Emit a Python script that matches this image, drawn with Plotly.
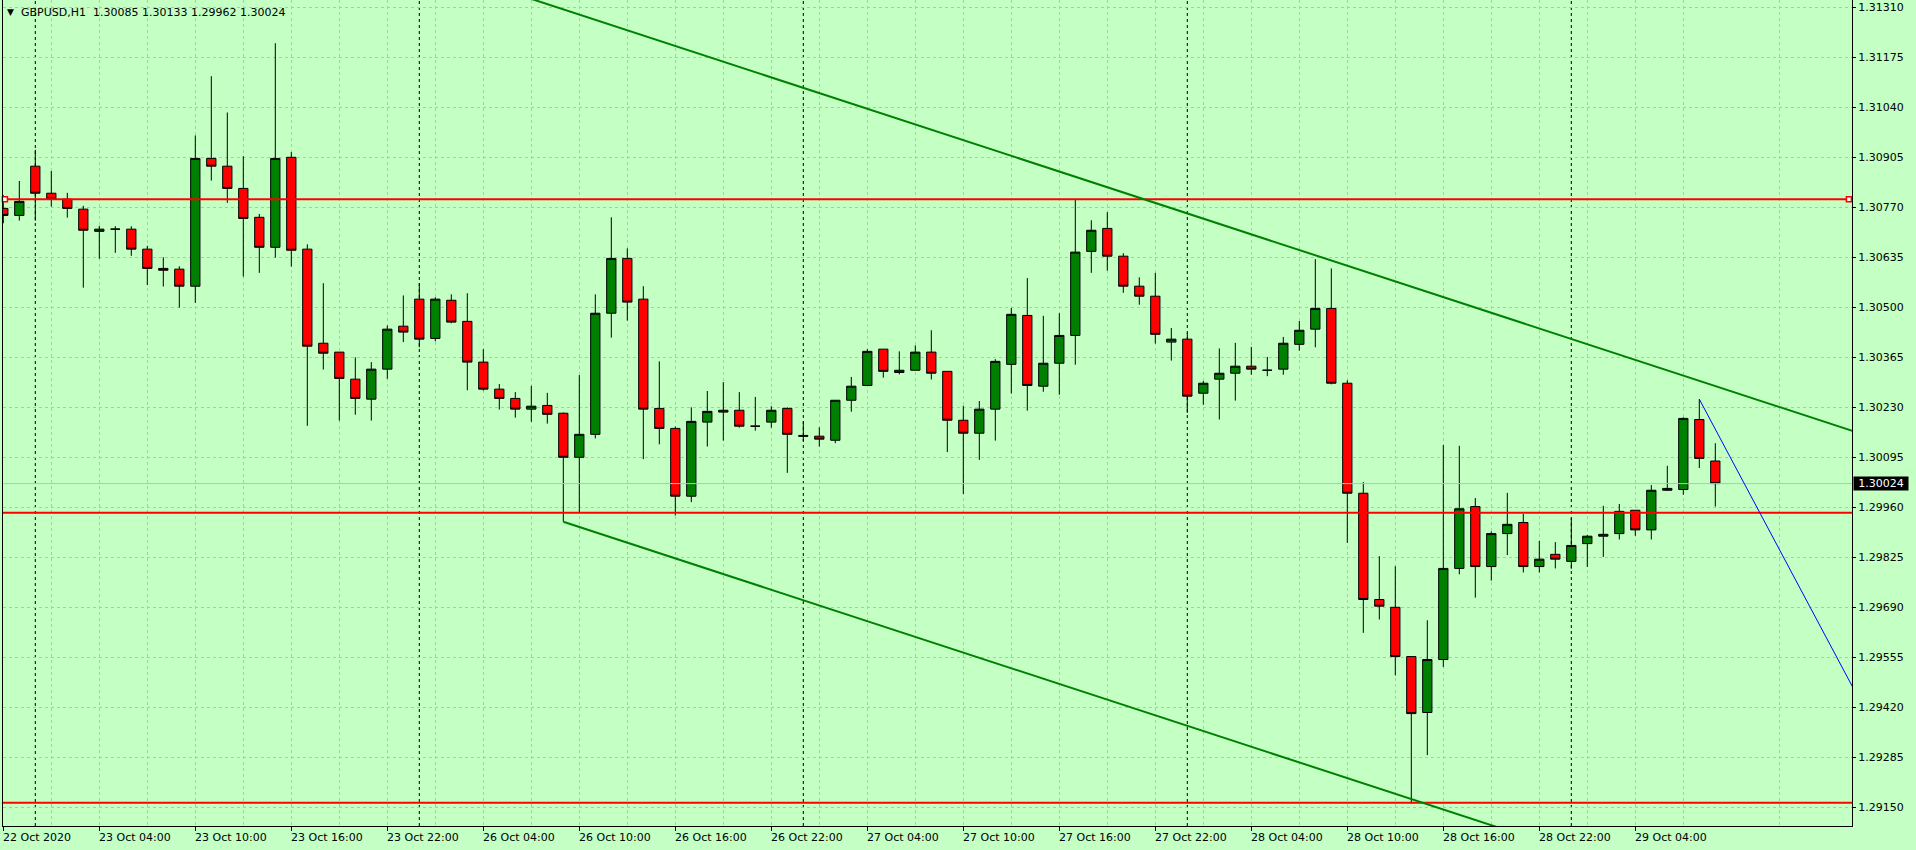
import plotly.graph_objects as go
import pandas as pd

# ---------------- data ----------------
header_text = "GBPUSD,H1  1.30085 1.30133 1.29962 1.30024"

opens = [1.30767, 1.30748, 1.30881, 1.30808, 1.30792, 1.30765, 1.30705, 1.30711, 1.30711, 1.30657,
         1.30605, 1.30603, 1.30557, 1.30902, 1.30881, 1.30821, 1.30743, 1.30662, 1.30905, 1.30657,
         1.30403, 1.30379, 1.30306, 1.30252, 1.30333, 1.30449, 1.30522, 1.30416, 1.30519, 1.30462,
         1.30352, 1.30279, 1.30254, 1.30225, 1.30235, 1.30214, 1.30095, 1.30157, 1.30484, 1.30632,
         1.30522, 1.30227, 1.30173, 1.29990, 1.30190, 1.30217, 1.30222, 1.30179, 1.30190, 1.30227,
         1.30154, 1.30152, 1.30141, 1.30249, 1.30289, 1.30387, 1.30324, 1.30330, 1.30379, 1.30327,
         1.30195, 1.30160, 1.30225, 1.30346, 1.30478, 1.30287, 1.30349, 1.30424, 1.30651, 1.30713,
         1.30638, 1.30557, 1.30530, 1.30406, 1.30414, 1.30268, 1.30306, 1.30322, 1.30341, 1.30330,
         1.30333, 1.30400, 1.30441, 1.30497, 1.30295, 1.29998, 1.29711, 1.29690, 1.29557, 1.29406,
         1.29549, 1.29795, 1.29962, 1.29800, 1.29889, 1.29919, 1.29800, 1.29833, 1.29814, 1.29862,
         1.29882, 1.29889, 1.29952, 1.29899, 1.30006, 1.30008, 1.30197, 1.30085]

highs = [1.30803, 1.30841, 1.30925, 1.30868, 1.30809, 1.30774, 1.30720, 1.30719, 1.30719, 1.30666,
         1.30635, 1.30611, 1.30964, 1.31124, 1.31026, 1.30908, 1.30752, 1.31213, 1.30919, 1.30670,
         1.30565, 1.30379, 1.30365, 1.30352, 1.30451, 1.30532, 1.30565, 1.30527, 1.30535, 1.30538,
         1.30387, 1.30293, 1.30271, 1.30288, 1.30269, 1.30216, 1.30317, 1.30535, 1.30743, 1.30659,
         1.30557, 1.30354, 1.30178, 1.30230, 1.30274, 1.30298, 1.30271, 1.30258, 1.30233, 1.30230,
         1.30192, 1.30176, 1.30249, 1.30312, 1.30387, 1.30387, 1.30381, 1.30397, 1.30438, 1.30327,
         1.30234, 1.30247, 1.30360, 1.30498, 1.30579, 1.30477, 1.30484, 1.30790, 1.30735, 1.30757,
         1.30646, 1.30581, 1.30593, 1.30444, 1.30431, 1.30301, 1.30389, 1.30404, 1.30393, 1.30366,
         1.30420, 1.30463, 1.30630, 1.30605, 1.30303, 1.30028, 1.29828, 1.29801, 1.29557, 1.29655,
         1.30128, 1.30126, 1.29985, 1.29895, 1.29999, 1.29942, 1.29869, 1.29866, 1.29931, 1.29885,
         1.29964, 1.29969, 1.29952, 1.30020, 1.30072, 1.30203, 1.30252, 1.30133]

lows = [1.30727, 1.30734, 1.30734, 1.30772, 1.30742, 1.30553, 1.30631, 1.30647, 1.30639, 1.30560,
        1.30556, 1.30499, 1.30512, 1.30842, 1.30782, 1.30583, 1.30593, 1.30634, 1.30610, 1.30180,
        1.30332, 1.30194, 1.30210, 1.30194, 1.30307, 1.30406, 1.30392, 1.30408, 1.30457, 1.30276,
        1.30275, 1.30224, 1.30202, 1.30191, 1.30186, 1.29921, 1.29944, 1.30146, 1.30418, 1.30464,
        1.30090, 1.30130, 1.29938, 1.29974, 1.30124, 1.30140, 1.30175, 1.30167, 1.30175, 1.30053,
        1.30139, 1.30124, 1.30133, 1.30218, 1.30289, 1.30310, 1.30319, 1.30330, 1.30305, 1.30109,
        1.29996, 1.30088, 1.30140, 1.30267, 1.30221, 1.30272, 1.30264, 1.30345, 1.30593, 1.30599,
        1.30539, 1.30507, 1.30402, 1.30356, 1.30215, 1.30237, 1.30197, 1.30248, 1.30318, 1.30314,
        1.30318, 1.30383, 1.30392, 1.30292, 1.29864, 1.29621, 1.29657, 1.29506, 1.29160, 1.29291,
        1.29529, 1.29779, 1.29716, 1.29762, 1.29831, 1.29784, 1.29784, 1.29795, 1.29794, 1.29799,
        1.29826, 1.29873, 1.29883, 1.29873, 1.30004, 1.29994, 1.30066, 1.29962]

closes = [1.30748, 1.30786, 1.30808, 1.30792, 1.30767, 1.30708, 1.30711, 1.30711, 1.30657, 1.30605,
          1.30600, 1.30557, 1.30902, 1.30881, 1.30821, 1.30740, 1.30662, 1.30902, 1.30654, 1.30395,
          1.30376, 1.30308, 1.30254, 1.30333, 1.30441, 1.30433, 1.30414, 1.30522, 1.30460, 1.30352,
          1.30279, 1.30254, 1.30225, 1.30233, 1.30211, 1.30095, 1.30157, 1.30484, 1.30632, 1.30514,
          1.30225, 1.30173, 1.29990, 1.30192, 1.30219, 1.30222, 1.30179, 1.30179, 1.30222, 1.30157,
          1.30152, 1.30144, 1.30249, 1.30287, 1.30381, 1.30327, 1.30330, 1.30379, 1.30322, 1.30195,
          1.30160, 1.30225, 1.30354, 1.30481, 1.30289, 1.30349, 1.30424, 1.30649, 1.30708, 1.30638,
          1.30557, 1.30530, 1.30427, 1.30414, 1.30260, 1.30295, 1.30322, 1.30341, 1.30333, 1.30330,
          1.30403, 1.30438, 1.30497, 1.30295, 1.29998, 1.29711, 1.29693, 1.29557, 1.29403, 1.29549,
          1.29795, 1.29956, 1.29800, 1.29889, 1.29914, 1.29800, 1.29820, 1.29820, 1.29857, 1.29882,
          1.29887, 1.29949, 1.29899, 1.30006, 1.30011, 1.30200, 1.30092, 1.30024]

x_tick_labels = ["22 Oct 2020", "23 Oct 04:00", "23 Oct 10:00", "23 Oct 16:00", "23 Oct 22:00",
                 "26 Oct 04:00", "26 Oct 10:00", "26 Oct 16:00", "26 Oct 22:00", "27 Oct 04:00",
                 "27 Oct 10:00", "27 Oct 16:00", "27 Oct 22:00", "28 Oct 04:00", "28 Oct 10:00",
                 "28 Oct 16:00", "28 Oct 22:00", "29 Oct 04:00"]
y_ticks = [1.29150, 1.29285, 1.29420, 1.29555, 1.29690, 1.29825, 1.29960, 1.30095, 1.30230,
           1.30365, 1.30500, 1.30635, 1.30770, 1.30905, 1.31040, 1.31175, 1.31310]

# horizontal levels, trend lines (bar index, price)
h_levels = [1.30792, 1.29945, 1.29162]
current_price = 1.30024
upper_trend = ([33.0, 115.6], [1.313327, 1.301659])
lower_trend = ([35.0, 115.6], [1.29921, 1.287824])
blue_line = ([106.0, 115.6], [1.30252, 1.294734])

# bar times (H1, weekend skipped)
all_hours = pd.date_range("2020-10-22 22:00", "2020-10-30 00:00", freq="h")
bar_times = [t for t in all_hours if t.weekday() < 5][:len(opens)]
idx = list(range(len(opens)))
separators = [i for i, t in enumerate(bar_times) if t.hour == 0]
label_idx = list(range(0, len(opens), 6))

# ---------------- style ----------------
BG = "#C4FFC4"
GRID = "#B9BFB9"
FONT = "DejaVu Sans"
X_MIN, X_MAX = -0.01875, 115.54375
Y_MIN, Y_MAX = 1.2909951, 1.3132971

fig = go.Figure()

fig.add_trace(go.Candlestick(
    x=idx, open=opens, high=highs, low=lows, close=closes,
    increasing=dict(line=dict(color="black", width=1), fillcolor="#008000"),
    decreasing=dict(line=dict(color="black", width=1), fillcolor="#FF0000"),
    whiskerwidth=0, hoverinfo="skip", showlegend=False))

# current price line
fig.add_trace(go.Scatter(x=[X_MIN, X_MAX], y=[current_price, current_price], mode="lines",
                         line=dict(color="#BDBDBD", width=1), hoverinfo="skip", showlegend=False))

# horizontal red levels
for lv in h_levels:
    fig.add_trace(go.Scatter(x=[X_MIN, X_MAX], y=[lv, lv], mode="lines",
                             line=dict(color="#FF0000", width=2), hoverinfo="skip", showlegend=False))
fig.add_trace(go.Scatter(x=[0.1, 115.35], y=[h_levels[0], h_levels[0]], mode="markers",
                         marker=dict(symbol="square", size=5, color="white",
                                     line=dict(color="#FF0000", width=1.5)),
                         hoverinfo="skip", showlegend=False, cliponaxis=False))

# trend channel
for xs, ys in (upper_trend, lower_trend):
    fig.add_trace(go.Scatter(x=xs, y=ys, mode="lines", line=dict(color="#008000", width=2),
                             hoverinfo="skip", showlegend=False))
fig.add_trace(go.Scatter(x=blue_line[0], y=blue_line[1], mode="lines",
                         line=dict(color="#0000FF", width=1), hoverinfo="skip", showlegend=False))

# period separators
for s in separators:
    fig.add_shape(type="line", x0=s, x1=s, y0=0, y1=1, xref="x", yref="paper",
                  line=dict(color="black", width=1, dash="3px,3px"), layer="below")

# x tick labels (left aligned at tick, MT4 style)
for i, lab in zip(label_idx, x_tick_labels):
    fig.add_annotation(x=i, y=0, xref="x", yref="paper", text=lab, showarrow=False,
                       xanchor="left", yanchor="middle", yshift=-11, xshift=-2,
                       font=dict(family=FONT, size=11, color="black"))

# header
fig.add_annotation(x=0, y=1, xref="paper", yref="paper", text="▼", showarrow=False,
                   xanchor="left", yanchor="middle", xshift=2, yshift=-12,
                   font=dict(family=FONT, size=9, color="black"))
fig.add_annotation(x=0, y=1, xref="paper", yref="paper", text=header_text, showarrow=False,
                   xanchor="left", yanchor="middle", xshift=16, yshift=-12.5,
                   font=dict(family=FONT, size=11, color="black"))

# current price label on axis
fig.add_annotation(x=1, y=current_price, xref="paper", yref="y", text="1.30024", showarrow=False,
                   xanchor="left", yanchor="middle", xshift=1, bgcolor="black", borderpad=0,
                   width=54, height=13, align="center",
                   font=dict(family=FONT, size=11, color="white"))

fig.update_layout(
    width=1916, height=850,
    margin=dict(l=3, r=64, t=0, b=24, pad=0),
    paper_bgcolor=BG, plot_bgcolor=BG,
    boxgap=0.42, boxgroupgap=0,
    showlegend=False,
    font=dict(family=FONT, size=11, color="black"),
    xaxis=dict(range=[X_MIN, X_MAX], rangeslider=dict(visible=False),
               tickmode="array", tickvals=label_idx, showticklabels=False,
               ticks="outside", ticklen=4, tickcolor="black",
               showgrid=True, gridcolor=GRID, griddash="3px,3px", gridwidth=1,
               minor=dict(tickmode="array", tickvals=list(range(3, len(opens) + 9, 6)),
                          showgrid=True, gridcolor=GRID, griddash="3px,3px", ticks=""),
               showline=True, linecolor="black", linewidth=1, mirror=False,
               zeroline=False, fixedrange=True),
    yaxis=dict(range=[Y_MIN, Y_MAX], side="right",
               tickmode="array", tickvals=y_ticks, ticktext=[f"{v:.5f}" for v in y_ticks],
               ticks="outside", ticklen=3, tickcolor="black",
               tickfont=dict(family=FONT, size=11, color="black"),
               showgrid=True, gridcolor=GRID, griddash="3px,3px", gridwidth=1,
               showline=True, linecolor="black", linewidth=1, mirror=True,
               zeroline=False, fixedrange=True),
)

fig.write_html("out.html", config={"displayModeBar": False},
               post_script="document.body.style.margin='0';document.body.style.overflow='hidden';")
